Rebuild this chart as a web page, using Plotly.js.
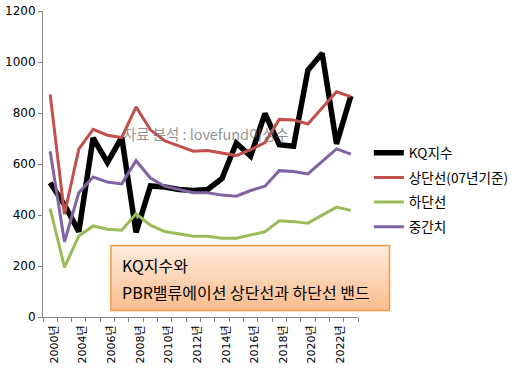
<!DOCTYPE html>
<html><head><meta charset="utf-8">
<script src="https://cdn.plot.ly/plotly-3.0.1.min.js"></script>
<style>html,body{margin:0;padding:0;background:#fff}#chart{width:524px;height:373px}</style>
</head><body><div id="chart"></div>
<script>
const years = ['2000년','2003년','2004년','2005년','2006년','2007년','2008년','2009년','2010년','2011년','2012년','2013년','2014년','2015년','2016년','2017년','2018년','2019년','2020년','2021년','2022년','2023년'];
const kq =    [526, 440, 335, 702, 606, 704, 332, 514, 510, 500, 496, 500, 543, 682, 631, 798, 676, 670, 968, 1034, 679, 867];
const upper = [873, 403, 658, 736, 713, 704, 824, 734, 691, 669, 650, 653, 643, 633, 656, 684, 775, 773, 757, 821, 883, 864];
const lower = [425, 195, 318, 357, 344, 340, 405, 360, 335, 325, 317, 317, 309, 309, 320, 334, 377, 374, 368, 399, 431, 418];
const mid =   [650, 295, 487, 549, 529, 522, 613, 545, 513, 500, 487, 487, 478, 474, 496, 513, 574, 571, 561, 610, 659, 639];
const seriesNames = ['KQ지수', '상단선(07년기준)', '하단선', '중간치'];
const yTicks = [0, 200, 400, 600, 800, 1000, 1200];
const boxLines = ['KQ지수와', 'PBR밸류에이션 상단선과 하단선 밴드'];
const watermark = '자료 분석 : lovefund이성수';

const tickText = years.map((y, i) => i % 2 === 0 ? y : '');
const FONT = 'DejaVu Sans, Noto Sans CJK KR, sans-serif';
const KFONT = 'Noto Sans CJK KR, sans-serif';

const mk = (y, name, color, width, g) => ({
  type: 'scatter', mode: 'lines', x: years, y: y, name: name, legendgroup: g,
  line: {color: color, width: width}, hoverinfo: 'skip'
});
const data = [
  mk(kq, seriesNames[0], '#000000', 5.5, 'a'),
  mk(upper, seriesNames[1], '#C0504D', 3, 'b'),
  mk(lower, seriesNames[2], '#9BBB59', 3, 'c'),
  mk(mid, seriesNames[3], '#8064A2', 3, 'd')
];

const svg = '<svg xmlns="http://www.w3.org/2000/svg" width="100" height="100" preserveAspectRatio="none">' +
  '<defs><linearGradient id="g" x1="0" y1="0" x2="0" y2="1">' +
  '<stop offset="0" stop-color="#FEEBDD"/><stop offset="1" stop-color="#FBBD8D"/></linearGradient></defs>' +
  '<rect width="100" height="100" fill="url(#g)"/></svg>';
const svgUri = 'data:image/svg+xml;charset=utf-8,' + encodeURIComponent(svg);

const W = 320, H = 306;
const px = v => (v - 43) / W;
const py = v => (316.6 - v) / H;

const layout = {
  width: 524, height: 373,
  margin: {l: 43, r: 161, t: 10.6, b: 56.4, pad: 0},
  paper_bgcolor: '#ffffff', plot_bgcolor: '#ffffff',
  showlegend: true,
  legend: {
    x: px(374), y: py(137), xanchor: 'left', yanchor: 'top',
    font: {family: KFONT, size: 13.6, color: '#000'},
    tracegroupgap: 4, traceorder: 'grouped', bgcolor: 'rgba(0,0,0,0)'
  },
  xaxis: {
    type: 'category', range: [-0.5, years.length - 0.5],
    tickvals: years, ticktext: tickText, tickangle: -90,
    tickson: 'boundaries', ticks: 'outside', ticklen: 4, tickcolor: '#868686',
    ticklabelstandoff: 3, ticklabelshift: 4,
    showline: true, linecolor: '#868686', linewidth: 1,
    showgrid: false, zeroline: false,
    tickfont: {family: FONT, size: 11, color: '#000'}
  },
  yaxis: {
    range: [0, 1200], tickvals: yTicks, ticks: 'outside', ticklen: 4, tickcolor: '#868686',
    showline: true, linecolor: '#868686', linewidth: 1,
    showgrid: false, zeroline: false,
    tickfont: {family: FONT, size: 12, color: '#000'}
  },
  images: [{
    source: svgUri, xref: 'paper', yref: 'paper',
    x: px(112), y: py(245), sizex: px(395) - px(112), sizey: py(245) - py(310),
    xanchor: 'left', yanchor: 'top', sizing: 'stretch', layer: 'above'
  }],
  shapes: [{
    type: 'rect', xref: 'paper', yref: 'paper', layer: 'above',
    x0: px(112), x1: px(395), y0: py(310), y1: py(245),
    line: {color: '#F79646', width: 1.5}, fillcolor: 'rgba(0,0,0,0)'
  }],
  annotations: [
    {text: boxLines[0], xref: 'paper', yref: 'paper', x: px(121), y: py(265), xanchor: 'left', yanchor: 'middle',
     showarrow: false, font: {family: KFONT, size: 16, color: '#000'}},
    {text: boxLines[1], xref: 'paper', yref: 'paper', x: px(121), y: py(292), xanchor: 'left', yanchor: 'middle',
     showarrow: false, font: {family: KFONT, size: 16, color: '#000'}},
    {text: watermark, xref: 'paper', yref: 'paper', x: px(122), y: py(133), xanchor: 'left', yanchor: 'middle',
     showarrow: false, font: {family: KFONT, size: 14.4, color: 'rgba(110,110,110,0.75)'}}
  ]
};
Plotly.newPlot('chart', data, layout, {staticPlot: true, displayModeBar: false});
</script></body></html>
